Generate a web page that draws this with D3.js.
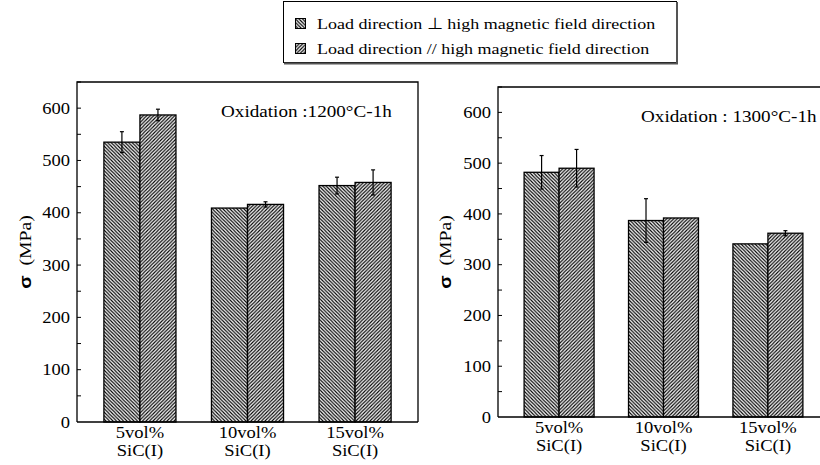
<!DOCTYPE html>
<html>
<head>
<meta charset="utf-8">
<script src="https://cdn.jsdelivr.net/npm/d3@7"></script>
<style>
  body { margin: 0; background: #fff; }
  text { font-family: "Liberation Serif", "Times New Roman", serif; fill: #000; }
</style>
</head>
<body>
<svg id="chart" width="820" height="465"></svg>
<script>
const categories = ["5vol%", "10vol%", "15vol%"];
const categorySub = "SiC(I)";
const seriesNames = [
  "Load direction \u22A5 high magnetic field direction",
  "Load direction // high magnetic field direction"
];
const yTicks = [0, 100, 200, 300, 400, 500, 600];

// 1200°C-1h
const perp1200 = [535, 409, 452];
const perp1200Err = [20, 0, 16];
const par1200 = [587, 416, 458];
const par1200Err = [11, 5, 24];

// 1300°C-1h
const perp1300 = [482, 387, 341];
const perp1300Err = [33, 43, 0];
const par1300 = [490, 392, 362];
const par1300Err = [37, 0, 5];

// the original lettering is a little wider than Times
const SX = 1.16;

const svg = d3.select('#chart');
const defs = svg.append('defs');

// hatch patterns: 0 = "\\\", 1 = "///"
function hatch(id, dir) {
  const s = 3.5;
  const p = defs.append('pattern')
    .attr('id', id)
    .attr('patternUnits', 'userSpaceOnUse')
    .attr('width', s)
    .attr('height', s);
  p.append('rect').attr('width', s).attr('height', s).attr('fill', '#fff');
  const d = dir === 0
    ? `M-1,-1 L${s + 1},${s + 1} M-1,${s - 1} L1,${s + 1} M${s - 1},-1 L${s + 1},1`
    : `M-1,${s + 1} L${s + 1},-1 M-1,1 L1,-1 M${s - 1},${s + 1} L${s + 1},${s - 1}`;
  p.append('path').attr('d', d).attr('stroke', '#000').attr('stroke-width', 1.15);
}
hatch('hatch0', 0);
hatch('hatch1', 1);

function label(parent, x, y, str, size, anchor) {
  return parent.append('text')
    .attr('transform', `translate(${x},${y}) scale(${SX},1)`)
    .attr('text-anchor', anchor || 'start')
    .attr('font-size', size)
    .text(str);
}

function panel(cfg) {
  const g = svg.append('g');
  const y = d3.scaleLinear().domain([0, 650]).range([cfg.bottom, cfg.top]);
  const x = d3.scaleBand().domain(categories)
    .range([cfg.left, cfg.right])
    .paddingInner(0.33)
    .paddingOuter(0.25);
  const xSub = d3.scaleBand().domain([0, 1]).range([0, x.bandwidth()]);

  const series = [
    { vals: cfg.perp, errs: cfg.perpErr, k: 0 },
    { vals: cfg.par, errs: cfg.parErr, k: 1 }
  ];

  // bars
  series.forEach(s => {
    g.selectAll(null)
      .data(categories)
      .join('rect')
        .attr('x', c => x(c) + xSub(s.k))
        .attr('y', (c, i) => y(s.vals[i]))
        .attr('width', xSub.bandwidth())
        .attr('height', (c, i) => y(0) - y(s.vals[i]))
        .attr('fill', `url(#hatch${s.k})`)
        .attr('stroke', '#000')
        .attr('stroke-width', 1.3);
  });

  // error bars
  series.forEach(s => {
    const eg = g.selectAll(null)
      .data(categories.map((c, i) => ({ c, v: s.vals[i], e: s.errs[i] })).filter(d => d.e > 0))
      .join('g');
    const cx = d => x(d.c) + xSub(s.k) + xSub.bandwidth() / 2;
    eg.append('line')
      .attr('x1', cx).attr('x2', cx)
      .attr('y1', d => y(d.v + d.e)).attr('y2', d => y(d.v - d.e))
      .attr('stroke', '#000').attr('stroke-width', 1.2);
    [1, -1].forEach(sg => {
      eg.append('line')
        .attr('x1', d => cx(d) - 2).attr('x2', d => cx(d) + 2)
        .attr('y1', d => y(d.v + sg * d.e)).attr('y2', d => y(d.v + sg * d.e))
        .attr('stroke', '#000').attr('stroke-width', 1.2);
    });
  });

  // frame
  g.append('path')
    .attr('d', `M${cfg.left},${cfg.bottom} V${cfg.top} H${cfg.right} V${cfg.bottom}`)
    .attr('fill', 'none').attr('stroke', '#000').attr('stroke-width', 1.3);
  g.append('line')
    .attr('x1', cfg.left).attr('x2', cfg.right)
    .attr('y1', cfg.bottom).attr('y2', cfg.bottom)
    .attr('stroke', '#000').attr('stroke-width', 1.6);

  // y axis, ticks inward
  const yAxis = g.append('g')
    .attr('transform', `translate(${cfg.left},0)`)
    .call(d3.axisLeft(y).tickValues(yTicks).tickSize(0).tickPadding(7));
  yAxis.select('.domain').remove();
  yAxis.selectAll('text')
    .attr('x', -7 / SX)
    .attr('transform', `scale(${SX},1)`)
    .style('font-family', '"Liberation Serif", serif')
    .style('font-size', '16px');
  g.selectAll(null)
    .data(d3.range(0, 651, 50).filter(v => v > 0))
    .join('line')
      .attr('x1', cfg.left).attr('x2', cfg.left + 4)
      .attr('y1', d => y(d)).attr('y2', d => y(d))
      .attr('stroke', '#000').attr('stroke-width', 1);

  // category labels
  const cl = g.selectAll(null)
    .data(categories)
    .join('text')
      .attr('text-anchor', 'middle')
      .attr('font-size', 16)
      .attr('transform', c => `translate(${x(c) + x.bandwidth() / 2},${cfg.bottom}) scale(${SX},1)`);
  cl.append('tspan').attr('x', 0).attr('y', 16).text(c => c);
  cl.append('tspan').attr('x', 0).attr('y', 34).text(categorySub);

  // y label
  const yl = g.append('text')
    .attr('transform', `translate(${cfg.labelX},252) rotate(-90) scale(${SX},1)`)
    .attr('text-anchor', 'middle')
    .attr('font-size', 17);
  yl.append('tspan')
    .style('font-family', '"Liberation Sans", sans-serif')
    .attr('font-weight', 'bold')
    .text('\u03C3');
  yl.append('tspan').text('\u2002(MPa)');

  // oxidation note
  label(g, cfg.noteX, cfg.noteY, cfg.note, 16.5);
}

panel({
  left: 77, right: 418, top: 82, bottom: 422,
  perp: perp1200, perpErr: perp1200Err, par: par1200, parErr: par1200Err,
  labelX: 31, note: 'Oxidation :1200\u00B0C-1h', noteX: 221, noteY: 117
});
panel({
  left: 498, right: 829, top: 87, bottom: 417,
  perp: perp1300, perpErr: perp1300Err, par: par1300, parErr: par1300Err,
  labelX: 451, note: 'Oxidation : 1300\u00B0C-1h', noteX: 641, noteY: 122
});

// legend
const legend = svg.append('g');
legend.append('rect')
  .attr('x', 283.5).attr('y', 1.5).attr('width', 393).attr('height', 61)
  .attr('fill', '#fff').attr('stroke', '#000').attr('stroke-width', 1);
legend.append('path')
  .attr('d', 'M677,2 V63.5 H284')
  .attr('fill', 'none').attr('stroke', '#555').attr('stroke-width', 2);
seriesNames.forEach((name, i) => {
  legend.append('rect')
    .attr('x', 295.5).attr('y', 18.5 + i * 25).attr('width', 10).attr('height', 10)
    .attr('fill', `url(#hatch${i})`)
    .attr('stroke', '#000').attr('stroke-width', 1);
  label(legend, 317, 29 + i * 25, name, 15.5);
});
</script>
</body>
</html>
